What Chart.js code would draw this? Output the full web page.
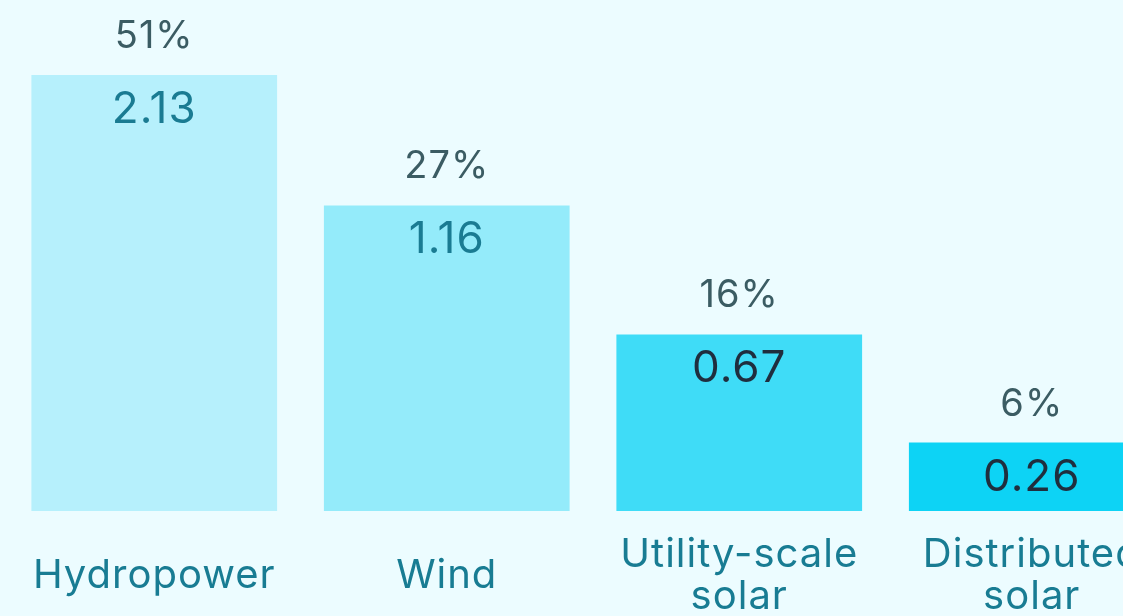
<!DOCTYPE html>
<html>
<head>
<meta charset="utf-8">
<title>Renewable generation by source</title>
<script src="https://cdn.jsdelivr.net/npm/chart.js@4.4.1/dist/chart.umd.min.js"></script>
<style>
  html, body { margin: 0; padding: 0; background: #ecfcff; overflow: hidden; }
  #chart { display: block; }
</style>
</head>
<body>
<canvas id="chart" width="1186" height="640"></canvas>
<script>
// data
var categories = ['Hydropower', 'Wind', ['Utility-scale', 'solar'], ['Distributed', 'solar']];
var values = [2.13, 1.16, 0.67, 0.26];
var shares = [51, 27, 16, 6];

var barColors = ['#b6f0fc', '#94ebfa', '#3fdcf7', '#0dd3f5'];
var valueColors = ['#1a7b92', '#1a7b92', '#1f2e3e', '#1f2e3e'];

var FONT = 'Inter, "Open Sans", sans-serif';

// font in the original is a bit wider than Inter, open it up a little
var spacing = {
  id: 'spacing',
  beforeLayout: function (chart) { chart.ctx.letterSpacing = '1px'; },
  beforeDraw: function (chart) { chart.ctx.letterSpacing = '1px'; }
};

// draws share above and value inside each bar
var barLabels = {
  id: 'barLabels',
  afterDatasetsDraw: function (chart) {
    var ctx = chart.ctx;
    var area = chart.chartArea;
    var meta = chart.getDatasetMeta(0);
    ctx.save();
    ctx.textAlign = 'center';
    ctx.textBaseline = 'alphabetic';
    meta.data.forEach(function (bar, i) {
      var top = Math.max(bar.y, area.top);
      ctx.font = '400 38px ' + FONT;
      ctx.fillStyle = '#3b5c63';
      ctx.fillText(shares[i] + '%', bar.x, top - 27);
      ctx.font = '400 44px ' + FONT;
      ctx.fillStyle = valueColors[i];
      ctx.fillText(values[i].toFixed(2), bar.x, top + 48);
    });
    ctx.restore();
  }
};

var ctx = document.getElementById('chart');
var myBar = new Chart(ctx, {
  type: 'bar',
  data: {
    labels: categories,
    datasets: [{
      data: values,
      backgroundColor: barColors,
      borderWidth: 0,
      categoryPercentage: 0.84,
      barPercentage: 1,
      clip: 0
    }]
  },
  options: {
    responsive: false,
    animation: false,
    devicePixelRatio: 1,
    layout: {
      padding: { left: 8, right: 8, top: 75, bottom: 6 }
    },
    plugins: {
      legend: { display: false },
      tooltip: { enabled: false }
    },
    scales: {
      x: {
        grid: { display: false, drawTicks: false },
        border: { display: false },
        ticks: {
          color: '#187c93',
          font: { family: FONT, size: 40, lineHeight: 1.05 },
          padding: 44,
          crossAlign: 'center',
          maxRotation: 0,
          autoSkip: false
        },
        afterFit: function (scale) {
          // fixed band under the bars, no side padding from the labels
          scale.height = 123;
          scale.paddingLeft = 0;
          scale.paddingRight = 0;
        }
      },
      y: {
        display: false,
        min: 0,
        max: 1.655
      }
    }
  },
  plugins: [spacing, barLabels]
});
console.log('area', myBar.chartArea);
</script>
</body>
</html>
